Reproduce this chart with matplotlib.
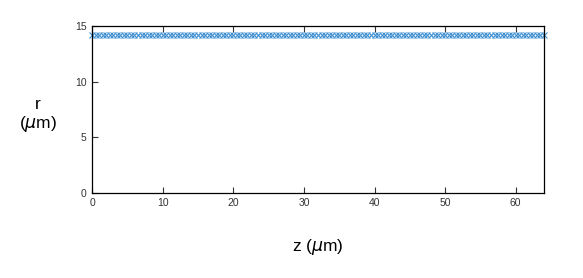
import numpy as np
import matplotlib.pyplot as plt

# data
z = np.arange(0, 64.5, 0.5)
r = [14.2] * len(z)
xticks = [0, 10, 20, 30, 40, 50, 60]
yticks = [0, 5, 10, 15]

plt.rcParams['font.family'] = ['Liberation Sans', 'DejaVu Sans']

fig = plt.figure(figsize=(5.83, 2.78), dpi=100)
ax = fig.add_axes([0.158, 0.306, 0.775, 0.600])
ax.plot(z, r, linestyle='none', marker='x', markersize=4, markeredgewidth=0.8,
        color='#3d8fd1', clip_on=False)

ax.set_xlim(0, 64)
ax.set_ylim(0, 15)
ax.set_xticks(xticks)
ax.set_yticks(yticks)
ax.tick_params(direction='in', length=4, width=0.8, labelsize=7.5, colors='#333333',
               top=True, right=False, pad=4)
for s in ax.spines.values():
    s.set_linewidth(0.9)

fig.text(0.065, 0.585, 'r\n($\\mu$m)', ha='center', va='center', fontsize=12.5,
         linespacing=1.1)
fig.text(0.545, 0.11, 'z ($\\mu$m)', ha='center', va='center', fontsize=12.5)

fig.savefig('out.png', dpi=100)
